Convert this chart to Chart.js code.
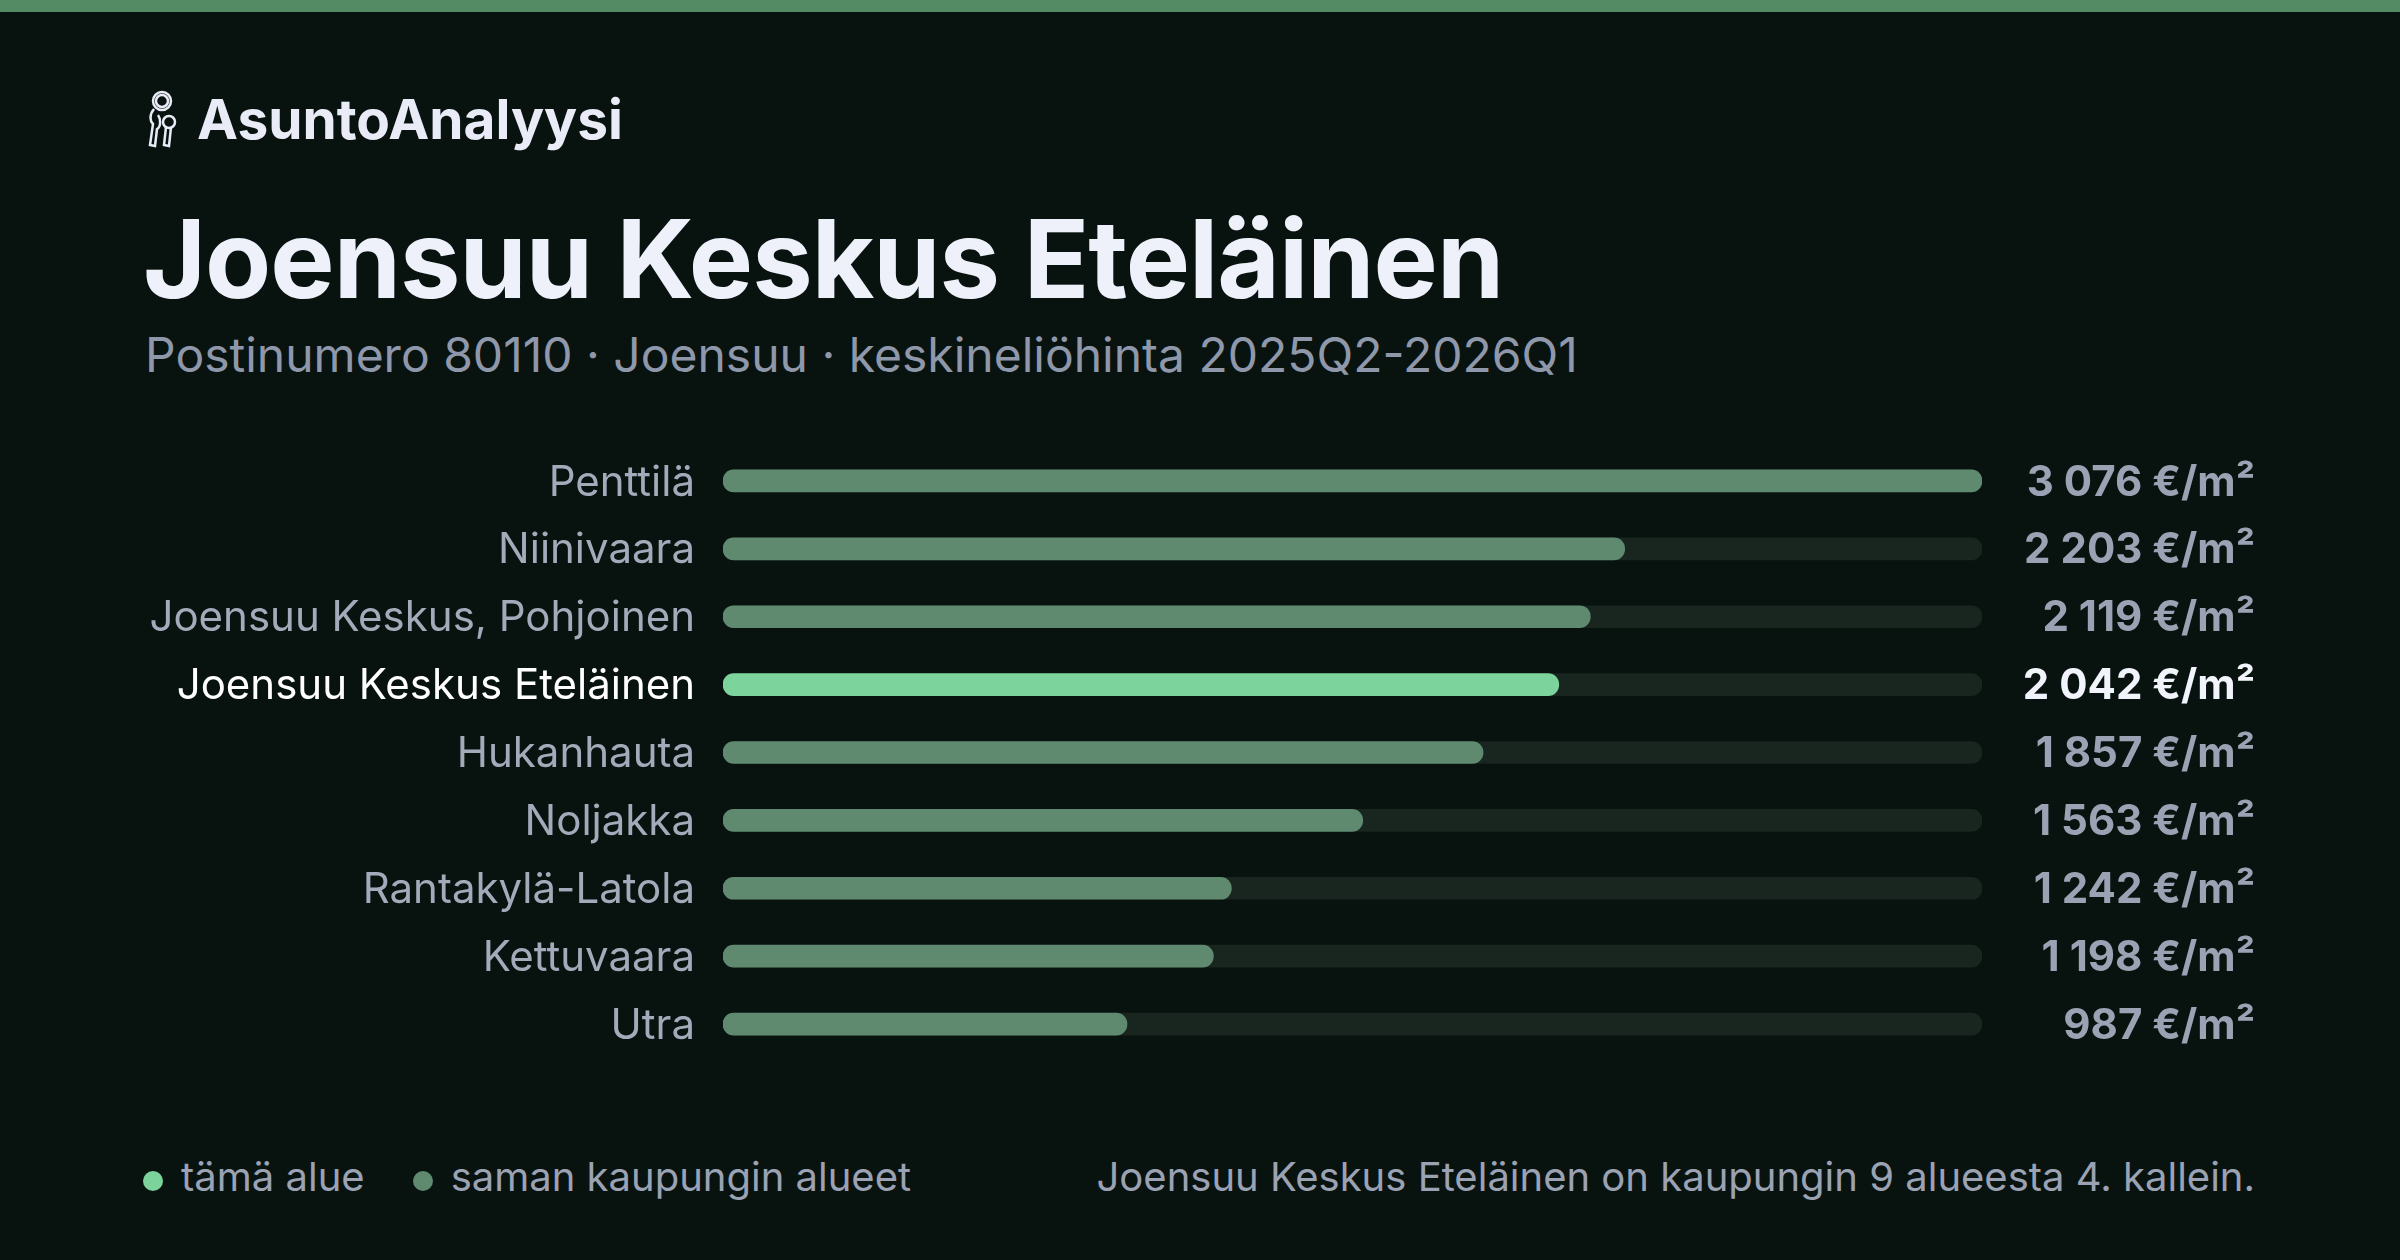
<!DOCTYPE html>
<html><head><meta charset="utf-8">
<script src="https://cdn.jsdelivr.net/npm/chart.js@4"></script>
<style>
html,body{margin:0;padding:0;background:#081310;width:2400px;height:1260px;overflow:hidden;font-family:Inter,"Noto Sans",sans-serif;}
#bar{position:absolute;left:0;top:0;width:2400px;height:12px;background:#548a64;}
#logo{position:absolute;left:145px;top:86px;font-size:55px;font-weight:700;color:#e9ecf7;display:flex;align-items:center;gap:14px;letter-spacing:0px}
#title{position:absolute;left:143px;top:193px;font-size:108px;font-weight:700;color:#eef0fa;letter-spacing:-1px}
#sub{position:absolute;left:145px;top:325px;font-size:48px;color:#8f98aa}
#legend{position:absolute;left:143px;top:1152px;font-size:40px;color:#9aa2b3;display:flex;align-items:center}
.dot{display:inline-block;width:20px;height:20px;border-radius:50%;margin-right:18px;margin-top:8px}
#foot{position:absolute;right:145px;top:1152px;font-size:40px;color:#9aa2b3}
canvas{position:absolute;left:0;top:0}
</style></head><body>
<div id="bar"></div>
<div id="logo"><svg width="38" height="60" viewBox="0 0 38 60" fill="none" stroke="#e9ecf7" stroke-width="2.5"><circle cx="17" cy="12" r="9"/><circle cx="17" cy="12" r="6"/><path d="M9 20 C4 26 5 32 8 35 L5 56 L10 57 L12 40 C16 38 16 30 13 26"/><circle cx="24" cy="33" r="6"/><path d="M21 38 L19 56 L24 57 L26 38"/></svg><span>AsuntoAnalyysi</span></div>
<div id="title">Joensuu Keskus Eteläinen</div>
<div id="sub">Postinumero 80110 · Joensuu · keskineliöhinta 2025Q2-2026Q1</div>
<div id="legend"><span class="dot" style="background:#7dd39c"></span>tämä alue<span class="dot" style="background:#5f8a70;margin-left:48px"></span>saman kaupungin alueet</div>
<div id="foot">Joensuu Keskus Eteläinen on kaupungin 9 alueesta 4. kallein.</div>
<canvas id="c" width="2400" height="1260"></canvas>
<script>
const categories=["Penttilä","Niinivaara","Joensuu Keskus, Pohjoinen","Joensuu Keskus Eteläinen","Hukanhauta","Noljakka","Rantakylä-Latola","Kettuvaara","Utra"];
const prices=[3076,2203,2119,2042,1857,1563,1242,1198,987];
const valueLabels=["3 076 €/m²","2 203 €/m²","2 119 €/m²","2 042 €/m²","1 857 €/m²","1 563 €/m²","1 242 €/m²","1 198 €/m²","987 €/m²"];
const highlightIndex=3;
const maxPrice=3076;
const labelPlugin={id:'lbl',afterDatasetsDraw(ch){
 const ctx=ch.ctx,y=ch.scales.y;
 ctx.save();ctx.textBaseline='middle';
 categories.forEach((c,i)=>{
  const yy=y.getPixelForValue(i)+2;const h=i===highlightIndex;
  ctx.textAlign='right';
  ctx.font='42px Inter, sans-serif';ctx.fillStyle=h?'#ffffff':'#a3abbb';
  ctx.fillText(c,695,yy);
  ctx.font='bold 42px Inter, sans-serif';ctx.fillStyle=h?'#f2f4fb':'#9aa2b3';
  ctx.fillText(valueLabels[i],2255,yy);
 });ctx.restore();}};
new Chart(document.getElementById('c'),{type:'bar',
 data:{labels:categories,datasets:[
  {data:prices,backgroundColor:prices.map((_,i)=>i===highlightIndex?'#7dd39c':'#5f8a70'),barThickness:22,borderRadius:11,borderSkipped:false,grouped:false,order:1},
  {data:prices.map(()=>maxPrice),backgroundColor:'#19251f',barThickness:22,borderRadius:11,borderSkipped:false,grouped:false,order:2}]},
 options:{indexAxis:'y',responsive:false,animation:false,devicePixelRatio:1,
  layout:{padding:{left:723,right:418,top:447,bottom:202}},
  plugins:{legend:{display:false},tooltip:{enabled:false}},
  scales:{x:{display:false,min:0,max:maxPrice},y:{display:false}}},
 plugins:[labelPlugin]});
</script></body></html>
